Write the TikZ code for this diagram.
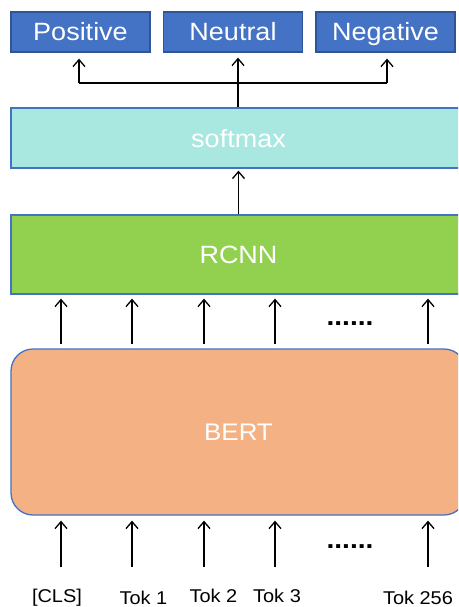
\documentclass[tikz,border=0pt]{standalone}
\usepackage{fontspec}
\setmainfont{Liberation Sans}[FakeStretch=1.08]
\usetikzlibrary{arrows.meta}
\definecolor{topblue}{HTML}{4472C4}
\definecolor{topedge}{HTML}{2F5597}
\definecolor{softc}{HTML}{A9E7E1}
\definecolor{rcnnc}{HTML}{92D050}
\definecolor{bertc}{HTML}{F4B183}
\definecolor{edgec}{HTML}{4472C4}
\tikzset{
  topbox/.style={draw=topedge, line width=1.3pt, fill=topblue, text=white,
    minimum width=139pt, minimum height=40pt, inner sep=0pt,
    font=\fontsize{25}{25}\selectfont, text height=18pt, text depth=0pt},
  layerbox/.style={draw=edgec, line width=1.3pt, text=white, inner sep=0pt,
    minimum width=455pt, font=\fontsize{25}{25}\selectfont, text height=18pt, text depth=0pt},
  arr/.style={line width=1.3pt, -{Straight Barb[length=7pt,width=12pt,line width=1.3pt]}},
  plainline/.style={line width=1.3pt},
  toklabel/.style={anchor=base, inner sep=0pt, font=\fontsize{18.5}{18.5}\selectfont, text depth=0pt},
  dotsl/.style={anchor=base, inner sep=0pt, font=\fontsize{26}{26}\bfseries\selectfont}
}
\begin{document}
\begin{tikzpicture}[x=1pt,y=-1pt]
\useasboundingbox (0,0) rectangle (458,607);
\clip (0,0) rectangle (458,607);
\fill[white] (0,0) rectangle (458,607);

% output boxes
\node[topbox] (pos) at (80.5,32) {Positive};
\node[topbox] (neu) at (233,32) {Neutral};
\node[topbox] (neg) at (385.5,32) {Negative};

% layers
\node[layerbox, fill=softc, minimum height=60pt] (soft) at (238.5,138) {softmax};
\node[layerbox, fill=rcnnc, minimum height=79pt] (rcnn) at (238.5,254.5) {RCNN};
\node[layerbox, fill=bertc, minimum height=166pt, rounded corners=22pt,
  font=\fontsize{24}{24}\selectfont, text height=17.2pt] (bert) at (238.5,432) {BERT};

% softmax -> outputs
\coordinate (jc) at (238,83);
\coordinate (jl) at (79,83);
\coordinate (jr) at (387,83);
\draw[plainline] (jl) -- (jr);
\draw[arr, shorten >=5pt] (soft.north -| jc) -- (neu.south -| jc);
\draw[arr, shorten >=6pt] (jl) -- (pos.south -| jl);
\draw[arr, shorten >=6pt] (jr) -- (neg.south -| jr);

% rcnn -> softmax
\draw[arr, shorten >=2pt] (rcnn.north) -- (soft.south);

% bert -> rcnn
\foreach \i/\x in {1/61,2/132,3/204,4/275,5/428}{
  \coordinate (c\i) at (\x,0);
  \draw[arr, shorten <=4pt, shorten >=4pt] (bert.north -| c\i) -- (rcnn.south -| c\i);
}
\node[dotsl] (dotsa) at (350,325) {......};

% inputs -> bert
\foreach \i/\x in {1/61,2/132,3/204,4/275,5/428}{
  \coordinate (t\i) at (\x,567);
  \draw[arr, shorten >=5pt] (t\i) -- (bert.south -| t\i);
}
\node[dotsl] (dotsb) at (350,548) {......};

% labels
\node[toklabel] (l0) at (57,602.5) {[CLS]};
\node[toklabel] (l1) at (143.5,604) {Tok 1};
\node[toklabel] (l2) at (213.5,602.5) {Tok 2};
\node[toklabel] (l3) at (277,602.5) {Tok 3};
\node[toklabel] (l4) at (418,604) {Tok 256};
\end{tikzpicture}
\end{document}
